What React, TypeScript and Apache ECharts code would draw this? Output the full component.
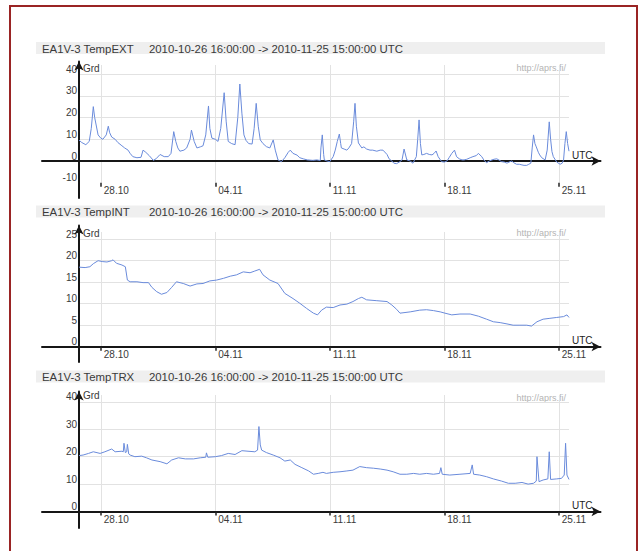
import React, { useEffect, useRef } from 'react';
import * as echarts from 'echarts';

// ---------- data ----------
const TITLES = ['EA1V-3 TempEXT', 'EA1V-3 TempINT', 'EA1V-3 TempTRX'];
const PERIOD = '2010-10-26 16:00:00 -> 2010-11-25 15:00:00 UTC';
const UNIT = 'Grd';
const TIME_UNIT = 'UTC';
const SOURCE = 'http://aprs.fi/';
// hours since 2010-10-26 16:00 UTC
const HOUR_MAX = 719;
const TICK_HOURS = [32, 200, 368, 536, 704];
const TICK_LABELS = ['28.10', '04.11', '11.11', '18.11', '25.11'];

const EXT_TICKS = [-10, 0, 10, 20, 30, 40];
const INT_TICKS = [0, 5, 10, 15, 20, 25];
const TRX_TICKS = [0, 10, 20, 30, 40];

const EXT_HOURS = [
  0, 4, 10, 15, 18, 21, 23, 28, 32, 35,
  40, 43, 45, 48, 53, 57, 63, 67, 72, 75,
  79, 85, 91, 94, 98, 103, 109, 113, 119, 125,
  131, 135, 139, 142, 145, 148, 154, 158, 163, 165,
  169, 173, 178, 182, 186, 190, 192, 195, 200, 204,
  208, 213, 216, 219, 224, 229, 233, 236, 239, 242,
  245, 249, 254, 257, 260, 263, 266, 270, 275, 280,
  285, 288, 292, 297, 302, 307, 310, 314, 320, 324,
  329, 335, 343, 349, 354, 355, 357, 359, 360, 364,
  368, 373, 376, 379, 382, 384, 385, 389, 393, 396,
  400, 403, 405, 407, 410, 415, 418, 422, 427, 431,
  437, 442, 446, 452, 455, 459, 462, 466, 470, 474,
  477, 481, 486, 490, 495, 497, 499, 501, 503, 506,
  510, 514, 518, 521, 524, 527, 532, 536, 540, 543,
  547, 551, 554, 558, 562, 565, 569, 574, 578, 583,
  586, 591, 594, 598, 602, 606, 609, 613, 616, 620,
  624, 628, 631, 635, 638, 642, 646, 650, 653, 657,
  660, 663, 665, 667, 669, 671, 674, 676, 679, 684,
  687, 690, 692, 694, 696, 699, 701, 706, 709, 711,
  713, 715, 717, 719,
];
const EXT_VALUES = [
  9.6, 8.5, 7.5, 9, 15, 25, 20, 12, 10.5, 10,
  12, 16, 13, 11, 10, 8.5, 7, 6, 5, 3.5,
  2, 1.5, 1.7, 5, 4, 2.5, 0.3, 1, 3, 2,
  2, 3.5, 13.5, 9, 6, 4.5, 5, 6, 10, 14.2,
  9, 6, 6.5, 7, 12, 25.3, 15, 10.5, 10, 9,
  15, 31.4, 18, 9, 8, 7.5, 20, 35.4, 22, 12,
  9.5, 8, 7.8, 15, 26.5, 16, 9.7, 8, 6.6, 6,
  9.7, 5, 0.5, -0.3, 1.5, 4, 5, 3.5, 2.7, 1.5,
  1, 0.5, 0.3, 0.5, 0.2, 6, 12, 3, 0.5, 0,
  -0.3, 2, 5, 9, 12.4, 8, 6, 5.5, 5, 6,
  8, 18, 26.5, 16, 8.3, 6, 6.5, 5.5, 5, 5,
  4.5, 5, 5, 3, 1, 0, -1, -1.2, -0.5, 0.5,
  5.5, 0.5, 0, -1, 2, 10, 18.9, 8, 2.8, 3,
  3.5, 3, 2.8, 3.5, 4.6, 2, -0.3, -0.5, 0, 1.5,
  3.5, 5, 2, 1, 0.5, 0.5, 0.8, 1.5, 2, 2.5,
  3.5, 2, 0.5, -0.8, 0, 0.5, 0.8, 1, 0.5, -0.3,
  -0.5, -1, -0.5, 0, -0.8, -1.5, -1.5, -1.8, -2, -2,
  -1.5, -1, 6, 12, 8, 6.5, 4, 2.8, 1.5, 0.5,
  5, 18, 10, 4.3, 2, 0.5, -0.5, -1.5, -1, 0.5,
  8, 13.5, 8, 4.5,
];

const INT_HOURS = [
  0, 9, 16, 21, 28, 34, 41, 48, 50, 55,
  63, 68, 71, 75, 85, 94, 102, 107, 114, 121,
  129, 136, 143, 153, 163, 173, 182, 192, 202, 212,
  222, 231, 241, 251, 258, 265, 270, 280, 292, 302,
  314, 324, 334, 344, 350, 356, 363, 373, 383, 393,
  402, 410, 415, 422, 437, 452, 459, 466, 471, 486,
  500, 510, 520, 530, 537, 547, 559, 574, 586, 598,
  608, 618, 628, 637, 647, 657, 664, 672, 681, 691,
  701, 711, 716, 719,
];
const INT_VALUES = [
  18.5, 18.4, 18.6, 19.3, 20.0, 19.8, 19.7, 20.0, 20.2, 19.4,
  19.0, 18.6, 15.5, 15.1, 15.1, 14.9, 14.9, 13.8, 12.8, 12.2,
  12.6, 13.8, 15.1, 14.7, 14.1, 14.6, 14.7, 15.3, 15.5, 15.9,
  16.4, 16.7, 17.4, 17.2, 17.6, 18.0, 16.7, 15.5, 14.7, 12.4,
  11.2, 10.1, 8.9, 7.8, 7.4, 8.5, 9.2, 9.1, 9.7, 9.9,
  10.5, 11.2, 11.5, 10.9, 10.7, 10.5, 9.7, 8.7, 7.8, 8.1,
  8.5, 8.6, 8.4, 8.1, 7.8, 7.4, 7.6, 7.6, 7.1, 6.4,
  5.8, 5.6, 5.3, 5.0, 5.0, 5.0, 4.8, 5.8, 6.4, 6.6,
  6.8, 7.0, 7.4, 6.8,
];

const TRX_HOURS = [
  0, 6, 14, 21, 31, 38, 48, 53, 63, 65,
  66, 68, 70, 71, 73, 75, 82, 92, 99, 107,
  119, 129, 136, 146, 156, 168, 178, 186, 187, 189,
  200, 209, 219, 229, 239, 248, 258, 262, 264, 266,
  268, 275, 285, 295, 302, 310, 317, 327, 337, 344,
  351, 358, 363, 373, 383, 393, 402, 412, 422, 432,
  442, 452, 461, 471, 481, 491, 500, 510, 520, 529,
  531, 533, 544, 559, 574, 577, 579, 588, 598, 608,
  620, 630, 640, 650, 659, 667, 671, 672, 675, 681,
  688, 690, 692, 701, 708, 712, 714, 716, 719,
];
const TRX_VALUES = [
  20.4, 20.6, 21.2, 21.8, 21.2, 21.8, 22.8, 21.8, 22.0, 21.8,
  24.9, 21.5, 21.8, 24.5, 21.0, 20.6, 20.0, 20.2, 19.6, 18.8,
  18.2, 17.4, 18.8, 19.6, 19.2, 19.2, 19.6, 19.8, 21.4, 19.8,
  20.0, 20.4, 21.2, 20.8, 22.2, 22.0, 21.8, 22.4, 31.0, 24.3,
  22.4, 21.5, 20.6, 19.6, 18.4, 18.8, 17.2, 16.0, 14.8, 13.6,
  13.9, 14.3, 13.9, 14.3, 14.5, 14.8, 15.1, 16.4, 16.0, 15.8,
  15.5, 15.1, 14.5, 13.6, 13.6, 13.9, 13.6, 13.9, 13.6, 13.9,
  16.0, 13.6, 13.3, 13.6, 13.9, 17.0, 13.6, 13.3, 12.7, 11.9,
  11.1, 10.3, 10.3, 10.6, 10.0, 10.3, 11.1, 20.0, 10.9, 11.5,
  11.9, 21.8, 11.7, 11.9, 12.1, 13.3, 24.9, 13.3, 11.7,
];

// ---------- layout / style ----------
const FONT = 'Liberation Sans, Arial, Helvetica, sans-serif';
const PLOT_LEFT = 79;
const PLOT_RIGHT = 569;
const AXIS_LEFT = 42;
const ARROW_X = 605;
const ARROW_LEN = 9;
const ARROW_W = 7;
const PPH = (PLOT_RIGHT - PLOT_LEFT) / HOUR_MAX;
const LINE_COLOR = '#6a8bdb';
const GRID_COLOR = '#e2e2e2';
const AXIS_COLOR = '#161616';
const TEXT_COLOR = '#3a3a3a';

const PANELS = [
  { title: TITLES[0], hours: EXT_HOURS, values: EXT_VALUES, ticks: EXT_TICKS,
    zeroY: 161, ppu: 2.175, gridTop: 65, arrowTop: 57, axisBottom: 198, barTop: 42, sourceY: 68 },
  { title: TITLES[1], hours: INT_HOURS, values: INT_VALUES, ticks: INT_TICKS,
    zeroY: 346.7, ppu: 4.3, gridTop: 232, arrowTop: 221, axisBottom: 362, barTop: 205.5, sourceY: 233 },
  { title: TITLES[2], hours: TRX_HOURS, values: TRX_VALUES, ticks: TRX_TICKS,
    zeroY: 511.5, ppu: 2.74, gridTop: 395, arrowTop: 387, axisBottom: 528, barTop: 370.5, sourceY: 398 },
];

function buildOption() {
  const grid: any[] = [];
  const xAxis: any[] = [];
  const yAxis: any[] = [];
  const series: any[] = [];
  const graphic: any[] = [
    { type: 'rect', shape: { x: 10, y: 6, width: 627, height: 620 },
      style: { fill: 'none', stroke: '#9a2424', lineWidth: 2 }, z: 100 },
  ];

  PANELS.forEach((p, i) => {
    const gMin = Math.min(...p.ticks);
    const gMaxTick = Math.max(...p.ticks);
    const plotBottom = p.zeroY - gMin * p.ppu;
    const gMax = (p.zeroY - p.gridTop) / p.ppu;
    const topTickY = p.zeroY - gMaxTick * p.ppu;
    const decoTop = p.arrowTop + ARROW_LEN / 2;
    const decoRight = ARROW_X - ARROW_LEN / 2;

    // data grid
    grid.push({ left: PLOT_LEFT, top: p.gridTop, width: PLOT_RIGHT - PLOT_LEFT,
      height: plotBottom - p.gridTop, containLabel: false, outerBoundsMode: 'none' });
    // axis-line grid
    grid.push({ left: AXIS_LEFT, top: decoTop, width: decoRight - AXIS_LEFT,
      height: p.axisBottom - decoTop, containLabel: false, outerBoundsMode: 'none' });

    xAxis.push({
      gridIndex: 2 * i, type: 'value', min: 0, max: HOUR_MAX,
      axisLine: { show: false, onZero: false },
      axisTick: { show: true, customValues: TICK_HOURS, length: 4, lineStyle: { color: '#222', width: 1.5 } },
      axisLabel: {
        customValues: TICK_HOURS,
        formatter: (v: number) => TICK_LABELS[TICK_HOURS.indexOf(Math.round(v))] ?? '',
        align: 'left', padding: [0, 0, 0, 3], margin: 3,
        fontSize: 10, color: TEXT_COLOR, fontFamily: FONT,
      },
      splitLine: { show: true, lineStyle: { color: GRID_COLOR, width: 1 } },
    });
    yAxis.push({
      gridIndex: 2 * i, type: 'value', min: gMin, max: gMax,
      axisLine: { show: false, onZero: false },
      axisTick: { show: false, customValues: p.ticks.filter((v) => v > 0) },
      axisLabel: {
        customValues: p.ticks, align: 'right', verticalAlign: 'bottom', margin: 2,
        fontSize: 10, color: TEXT_COLOR, fontFamily: FONT,
      },
      splitLine: { show: true, lineStyle: { color: GRID_COLOR, width: 1 } },
      name: UNIT, nameLocation: 'end', nameGap: p.gridTop - (topTickY - 6),
      nameTextStyle: { align: 'left', verticalAlign: 'middle', padding: [0, 0, 0, 4],
        fontSize: 10, color: TEXT_COLOR, fontFamily: FONT },
    });

    xAxis.push({
      gridIndex: 2 * i + 1, type: 'value',
      min: -(PLOT_LEFT - AXIS_LEFT) / PPH, max: (decoRight - PLOT_LEFT) / PPH,
      axisLine: { show: true, onZero: true, symbol: ['none', 'arrow'], symbolSize: [ARROW_W, ARROW_LEN],
        lineStyle: { color: AXIS_COLOR, width: 2 } },
      axisTick: { show: false }, axisLabel: { show: false }, splitLine: { show: false },
      name: TIME_UNIT, nameLocation: 'end', nameGap: -(decoRight - 572),
      nameTextStyle: { align: 'left', verticalAlign: 'bottom', padding: [0, 0, 1, 0],
        fontSize: 10, color: '#222', fontFamily: FONT },
    });
    yAxis.push({
      gridIndex: 2 * i + 1, type: 'value',
      min: -(p.axisBottom - p.zeroY) / p.ppu, max: (p.zeroY - decoTop) / p.ppu,
      axisLine: { show: true, onZero: true, symbol: ['none', 'arrow'], symbolSize: [ARROW_W, ARROW_LEN],
        lineStyle: { color: AXIS_COLOR, width: 2 } },
      axisTick: { show: false }, axisLabel: { show: false }, splitLine: { show: false },
    });

    series.push({
      type: 'line', xAxisIndex: 2 * i, yAxisIndex: 2 * i,
      data: p.hours.map((h, k) => [h, p.values[k]]),
      showSymbol: false, symbol: 'none', silent: true,
      lineStyle: { color: LINE_COLOR, width: 1 }, itemStyle: { color: LINE_COLOR },
    });

    graphic.push(
      { type: 'rect', shape: { x: 36, y: p.barTop, width: 569, height: 12 },
        style: { fill: '#efefef' } },
      { type: 'text', x: 42, y: p.barTop + 6.5,
        style: { text: p.title, fill: TEXT_COLOR, fontSize: 11.4, fontFamily: FONT,
          align: 'left', verticalAlign: 'middle' } },
      { type: 'text', x: 403, y: p.barTop + 6.5,
        style: { text: PERIOD, fill: TEXT_COLOR, fontSize: 11.4, fontFamily: FONT,
          align: 'right', verticalAlign: 'middle' } },
      { type: 'text', x: 566, y: p.sourceY,
        style: { text: SOURCE, fill: '#b4b4b4', fontSize: 9, fontFamily: FONT,
          align: 'right', verticalAlign: 'middle' } },
    );
  });

  return {
    animation: false,
    backgroundColor: '#ffffff',
    textStyle: { fontFamily: FONT },
    grid, xAxis, yAxis, series, graphic,
  };
}

export default function App() {
  const ref = useRef<HTMLDivElement>(null);
  useEffect(() => {
    if (!ref.current) return;
    const chart = echarts.init(ref.current, null, { renderer: 'svg' });
    chart.setOption(buildOption() as any);
    return () => chart.dispose();
  }, []);
  return (
    <div
      ref={ref}
      style={{ position: 'absolute', left: 0, top: 0, width: 641, height: 551, background: '#fff' }}
    />
  );
}
